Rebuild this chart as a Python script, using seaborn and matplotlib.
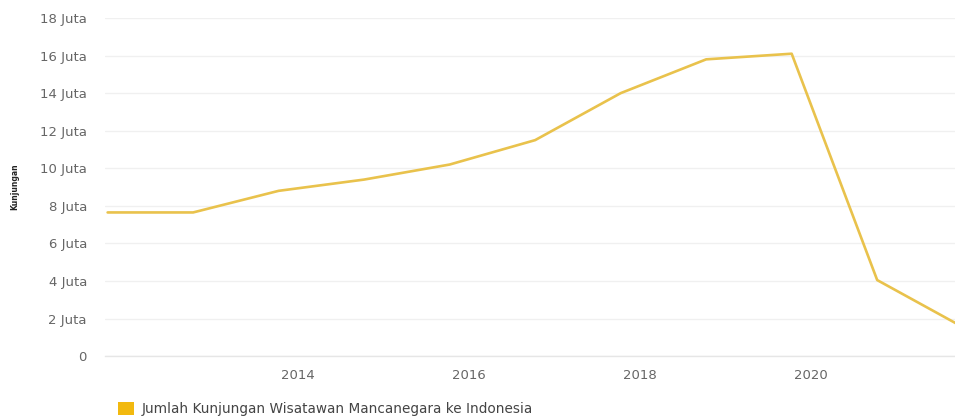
import matplotlib
matplotlib.use("Agg")
import matplotlib.pyplot as plt
from matplotlib.patches import Patch
import seaborn as sns
import pandas as pd

# Data
years = [2011, 2012, 2013, 2014, 2015, 2016, 2017, 2018, 2019, 2020, 2021]
visits_million = [7.65, 7.65, 8.8, 9.4, 10.2, 11.5, 14.0, 15.8, 16.1, 4.05, 1.55]
x_ticks = [2014, 2016, 2018, 2020]
y_ticks = [0, 2, 4, 6, 8, 10, 12, 14, 16, 18]
y_tick_labels = ["0"] + [f"{v} Juta" for v in y_ticks[1:]]
series_name = "Jumlah Kunjungan Wisatawan Mancanegara ke Indonesia"
y_title = "Kunjungan"

# points sit late in each year on the time axis of the source chart
point_offset = 0.77
df = pd.DataFrame({"x": [y + point_offset for y in years], "v": visits_million})

sns.set_theme(style="white")
plt.rcParams["font.family"] = ["DejaVu Sans"]

fig = plt.figure(figsize=(9.55, 4.19), dpi=100)
ax = fig.add_axes([0.110, 0.150, 0.890, 0.807])

line_color = "#e9c24c"
sns.lineplot(data=df, x="x", y="v", ax=ax, color=line_color, linewidth=1.9, legend=False)

ax.set_xlim(2011.74, 2021.68)
ax.set_ylim(0, 18)
ax.set_yticks(y_ticks)
ax.set_yticklabels(y_tick_labels)
ax.set_xticks(x_ticks)
ax.set_xticklabels([str(t) for t in x_ticks])
ax.tick_params(axis="both", length=0, labelsize=9.5, labelcolor="#666666")
ax.tick_params(axis="y", pad=13)
ax.tick_params(axis="x", pad=9)

ax.grid(axis="y", color="#f0f0f0", linewidth=1)
ax.grid(axis="x", visible=False)
for s in ["top", "right", "left"]:
    ax.spines[s].set_visible(False)
ax.spines["bottom"].set_color("#e6e6e6")
ax.spines["bottom"].set_linewidth(1)

ax.set_xlabel("")
ax.set_ylabel(y_title, fontsize=5.5, fontweight="bold", color="#222222", labelpad=15)

handle = Patch(facecolor="#f2b90f", edgecolor="none")
fig.legend([handle], [series_name], loc="lower left", bbox_to_anchor=(0.118, -0.006),
           frameon=False, fontsize=9.8, labelcolor="#444444",
           handlelength=1.2, handleheight=1.2, handletextpad=0.5, borderaxespad=0)

fig.savefig("out.png", dpi=100, facecolor="white")
